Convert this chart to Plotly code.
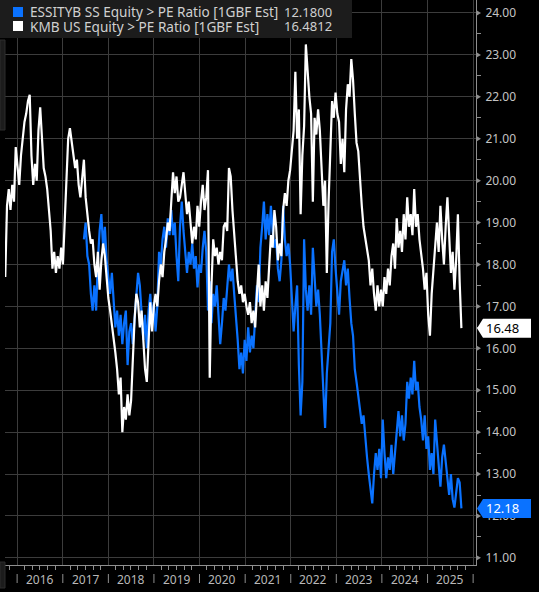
import pandas as pd
import plotly.graph_objects as go

# PE ratio [1GBF Est] at two-week spacing
kmb_start = "2015-09-28"
kmb_pe = [
    17.7, 19.4, 19.8, 19.3, 19.9, 19.5, 20.8, 20.4, 19.9, 20.6,
    21.1, 21.4, 21.6, 21.9, 22.05, 20.6, 19.9, 20.4, 20.0, 21.2,
    21.75, 21.0, 20.3, 20.1, 19.8, 19.3, 18.8, 17.9, 18.3, 17.8,
    18.2, 17.9, 18.4, 18.0, 18.9, 19.9, 21.0, 21.25, 20.9, 20.6,
    20.3, 20.5, 19.9, 19.6, 20.1, 20.5, 19.6, 19.1, 18.8, 18.5,
    18.6, 18.0, 17.7, 18.3, 17.4, 18.1, 18.5, 18.2, 17.6, 17.2,
    16.9, 16.6, 16.2, 15.9, 15.5, 14.9, 15.3, 14.0, 14.6, 14.3,
    14.9, 14.4, 14.75, 15.8, 16.7, 17.3, 17.1, 16.5, 16.9, 16.2,
    15.5, 15.2, 16.3, 17.1, 16.4, 17.0, 17.3, 17.0, 17.6, 18.0,
    17.7, 18.3, 18.6, 19.0, 18.8, 19.6, 20.2, 19.7, 20.1, 19.5,
    19.6, 19.9, 20.2, 19.7, 19.2, 19.5, 18.9, 18.5, 18.9, 18.6,
    19.4, 18.9, 19.5, 19.9, 19.3, 19.6, 20.25, 15.3, 17.5, 18.6,
    18.2, 18.4, 18.0, 18.3, 18.1, 18.9, 19.0, 18.8, 20.3, 20.1,
    19.3, 18.7, 18.2, 17.6, 17.3, 17.5, 17.1, 17.3, 17.0, 16.8,
    17.1, 16.6, 16.9, 16.5, 17.3, 18.0, 17.0, 17.5, 16.9, 17.6,
    17.2, 18.0, 18.7, 18.4, 19.3, 18.9, 18.1, 18.5, 18.2, 19.3,
    19.7, 19.4, 20.0, 20.25, 20.8, 21.2, 22.6, 21.0, 21.7, 19.2,
    20.6, 21.3, 23.25, 22.5, 22.0, 21.6, 19.5, 21.5, 21.1, 21.7,
    21.2, 20.3, 19.4, 20.0, 17.8, 19.5, 20.6, 21.9, 21.5, 22.1,
    21.6, 21.4, 20.4, 21.0, 20.2, 21.7, 22.3, 22.0, 22.9, 22.4,
    21.6, 20.9, 20.7, 19.95, 19.4, 18.9, 18.6, 18.4, 18.1, 17.5,
    17.9, 17.3, 16.9, 17.5, 17.0, 17.4, 17.0, 17.7, 17.3, 17.9,
    17.5, 18.2, 18.5, 17.9, 19.1, 18.4, 18.8, 18.3, 19.2, 18.6,
    19.6, 18.9, 19.2, 18.7, 19.8, 18.9, 19.2, 18.6, 18.3, 17.9,
    17.4, 17.8, 16.8, 16.3, 17.3, 17.9, 18.4, 19.0, 18.3, 19.4,
    18.6, 18.0, 18.9, 19.6, 18.7, 17.8, 18.3, 17.4, 18.1, 19.2,
    17.6, 16.4812,
]
essity_pe = [
    18.6, 19.0, 18.2, 18.0, 17.3, 16.9, 17.5, 16.9, 18.1, 18.8,
    19.2, 18.4, 18.9, 18.1, 17.7, 17.3, 17.8, 17.0, 16.5, 16.9,
    16.3, 16.8, 16.1, 16.6, 16.9, 15.6, 16.4, 16.6, 16.1, 16.7,
    17.4, 17.8, 17.5, 16.9, 16.2, 16.8, 16.0, 16.9, 17.3, 16.6,
    17.1, 16.4, 17.0, 18.3, 18.0, 18.6, 18.9, 18.4, 19.1, 18.7,
    19.3, 18.7, 19.0, 18.2, 17.6, 18.9, 19.5, 18.8, 18.2, 17.8,
    18.3, 18.0, 18.5, 17.9, 18.2, 17.45, 18.0, 17.8, 18.4, 18.8,
    18.3, 16.9, 17.6, 16.6, 17.3, 17.0, 17.5, 16.7, 16.1, 16.6,
    17.2, 16.9, 17.5, 18.0, 17.6, 17.9, 17.3, 16.8, 16.2, 15.5,
    15.9, 15.4, 16.2, 15.7, 16.5, 15.9, 16.3, 16.0, 16.9, 17.5,
    17.1, 18.4, 18.9, 19.5, 18.6, 19.2, 18.7, 19.4, 18.8, 18.4,
    18.6, 17.9, 17.6, 18.1, 19.4, 18.6, 18.2, 18.5, 18.0, 17.1,
    16.4, 17.0, 17.5, 15.6, 14.4, 15.2, 18.6, 17.4, 16.9, 17.5,
    16.8, 18.4, 17.6, 17.0, 17.4, 16.8, 15.9, 14.9, 14.1, 15.4,
    16.1, 16.6, 18.3, 18.6, 17.9, 17.2, 16.8, 17.6, 17.9, 18.1,
    17.5, 17.9, 17.2, 16.6, 16.3, 15.5, 15.2, 14.9, 14.6, 14.2,
    14.4, 13.8, 13.4, 13.0, 12.6, 12.3, 13.0, 13.5, 13.1, 13.6,
    12.9, 14.3, 13.5, 12.9, 13.4, 13.1, 13.7, 13.0, 13.5, 14.1,
    14.5, 13.9, 14.4, 13.8, 14.2, 15.2, 14.8, 15.3, 14.9, 15.7,
    15.0, 15.2, 14.6, 14.3, 13.8, 14.4, 13.6, 13.9, 13.1, 13.5,
    13.0, 14.3, 13.7, 13.2, 12.7, 13.4, 13.7, 13.3, 12.9, 12.5,
    13.0, 12.4, 12.2, 12.6, 12.9, 12.8, 12.18,
]

series_names = ["ESSITYB SS Equity > PE Ratio [1GBF Est]",
                "KMB US Equity > PE Ratio [1GBF Est]"]
series_colors = ["#0a72ff", "#ffffff"]
label_text_colors = ["#ffffff", "#000000"]
year_labels = list(range(2016, 2026))
y_ticks = list(range(11, 25))

kmb_dates = pd.date_range(kmb_start, periods=len(kmb_pe), freq="14D")
essity_dates = kmb_dates[-len(essity_pe):]

W, H = 539, 592
L, R, T, B = 5, 63, 0, 27
PW, PH = W - L - R, H - T - B
Y_RANGE = [10.83, 24.31]
PX_PER_UNIT = PH / (Y_RANGE[1] - Y_RANGE[0])


def px(x):
    # pixel column -> paper x
    return (x - L) / PW


def py(y):
    # pixel row -> paper y
    return 1 - (y - T) / PH


FONT = "Noto Sans"
GRID = "#3c3c3c"
AXIS = "#8f8f8f"

fig = go.Figure()
fig.add_trace(go.Scatter(x=essity_dates, y=essity_pe, mode="lines", name=series_names[0],
                         line=dict(color=series_colors[0], width=2.2)))
fig.add_trace(go.Scatter(x=kmb_dates, y=kmb_pe, mode="lines", name=series_names[1],
                         line=dict(color=series_colors[1], width=2.2)))

shapes = []
annotations = []

# tick arrows on the right axis
for v in y_ticks:
    shapes.append(dict(type="path", xref="paper", yref="y", layer="above",
                       path=f"M {px(476)},{v + 0.07} L {px(481)},{v} L {px(476)},{v - 0.07} Z",
                       fillcolor=AXIS, line=dict(width=0)))

# year separators and labels under the axis
for yr in year_labels + [year_labels[-1] + 1]:
    shapes.append(dict(type="line", xref="x", yref="paper", x0=f"{yr}-01-01", x1=f"{yr}-01-01",
                       y0=py(574), y1=py(583), line=dict(color=AXIS, width=1)))
for yr in year_labels:
    annotations.append(dict(x=f"{yr}-07-02", xref="x", y=py(579), yref="paper", text=str(yr),
                            showarrow=False, xanchor="center", yanchor="middle",
                            font=dict(family=FONT, size=12, color="#b8b8b8")))

# last value tags
last_vals = [essity_pe[-1], kmb_pe[-1]]
half = 9.5 / PX_PER_UNIT
for v, fc, tc in zip(last_vals, series_colors, label_text_colors):
    shapes.append(dict(type="path", xref="paper", yref="y", layer="above",
                       path=(f"M {px(477)},{v} L {px(483)},{v + half} L {px(531)},{v + half} "
                             f"L {px(531)},{v - half} L {px(483)},{v - half} Z"),
                       fillcolor=fc, line=dict(width=0)))
    annotations.append(dict(x=px(502), xref="paper", y=v, yref="y", text=f"{v:.2f}",
                            showarrow=False, xanchor="center", yanchor="middle",
                            font=dict(family=FONT, size=13, color=tc)))

# legend panel
shapes.append(dict(type="rect", xref="paper", yref="paper", layer="above",
                   x0=px(0), x1=px(352), y0=py(38), y1=py(0),
                   fillcolor="#1c1c1c", line=dict(width=0)))
for i, (name, col, v) in enumerate(zip(series_names, series_colors, last_vals)):
    cy = 12 + 14 * i
    shapes.append(dict(type="rect", xref="paper", yref="paper", layer="above",
                       x0=px(13), x1=px(23), y0=py(cy + 5), y1=py(cy - 5),
                       fillcolor=col, line=dict(width=0)))
    annotations.append(dict(x=px(28), xref="paper", y=py(cy), yref="paper", text=name,
                            showarrow=False, xanchor="left", yanchor="middle",
                            font=dict(family=FONT, size=13.6, color="#d0d0d0")))
    annotations.append(dict(x=px(334), xref="paper", y=py(cy), yref="paper", text=f"{v:.4f}",
                            showarrow=False, xanchor="right", yanchor="middle",
                            font=dict(family=FONT, size=13, color="#d0d0d0")))

# side strips at the left edge
for y0, y1 in [(40, 130), (562, 588)]:
    shapes.append(dict(type="rect", xref="paper", yref="paper", layer="above",
                       x0=px(0), x1=px(5), y0=py(y1), y1=py(y0),
                       fillcolor="#1c1c1c", line=dict(color="#2c2c2c", width=1)))

fig.update_layout(
    width=W, height=H,
    margin=dict(l=L, r=R, t=T, b=B),
    paper_bgcolor="#000000", plot_bgcolor="#000000",
    showlegend=False,
    shapes=shapes, annotations=annotations,
    font=dict(family=FONT, color="#c4c4c4"),
    xaxis=dict(type="date", range=["2015-09-26", "2026-01-24"], automargin=False,
               showgrid=True, gridcolor=GRID, gridwidth=1,
               dtick="M12", tick0="2016-01-01", showticklabels=False, ticks="",
               showline=True, linecolor=AXIS, linewidth=1, zeroline=False,
               minor=dict(dtick="M2", tick0="2016-01-01", ticks="outside", ticklen=4,
                          tickcolor=AXIS, showgrid=False)),
    yaxis=dict(side="right", range=Y_RANGE, dtick=1, tick0=11, tickformat=".2f", automargin=False,
               showgrid=True, gridcolor=GRID, gridwidth=1, zeroline=False,
               showline=True, linecolor=AXIS, linewidth=1,
               ticks="outside", ticklen=6, tickcolor="rgba(0,0,0,0)",
               minor=dict(dtick=0.5, ticks="outside", ticklen=4, tickcolor=AXIS, showgrid=False),
               tickfont=dict(family=FONT, size=12, color="#c4c4c4")),
)

# the page body keeps a default margin; drop it so the figure sits at the corner
fig.write_html("out.html", config={"displayModeBar": False},
               post_script="document.body.style.margin = '0';")
